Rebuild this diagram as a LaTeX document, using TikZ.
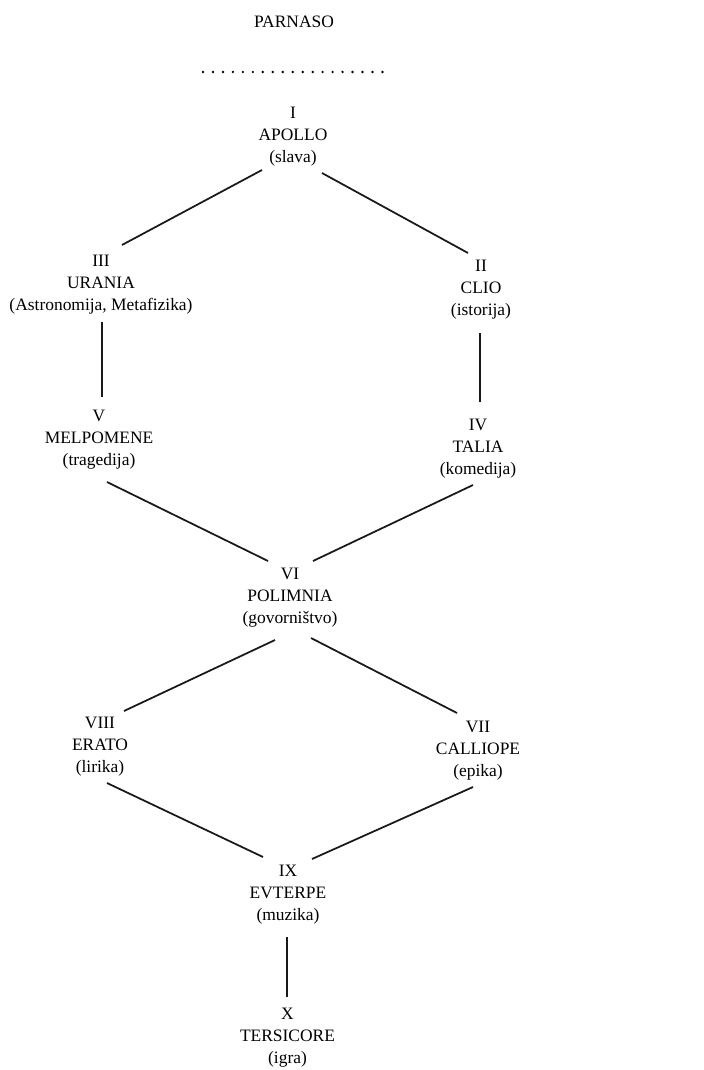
\documentclass[tikz,border=0pt]{standalone}
\usepackage{fontspec}
\setmainfont{Liberation Serif}
\usetikzlibrary{calc}

\begin{document}
\begin{tikzpicture}[x=0.025cm, y=-0.025cm,
        muse/.style={align=center, inner sep=1pt, font=\fontsize{12.4}{15.6}\selectfont},
        link/.style={line width=1.25pt, draw=black!90},
        dots/.style={line width=1.9pt, line cap=round, dash pattern=on 0pt off 7.09pt}]
      \useasboundingbox (0,0) rectangle (703,1070);
      \node[muse] (title) at (294,22) {PARNASO};
      \coordinate (dl) at (203,72);
      \coordinate (dr) at (384,72);
      \draw[dots] (dl) -- (dr);
      \foreach \x/\y/\name/\txt in {293/137/apollo/{I\\APOLLO\\(slava)},
          101/285/urania/{III\\URANIA\\(Astronomija, Metafizika)},
          481/290/clio/{II\\CLIO\\(istorija)},
          99/440/melpomene/{V\\MELPOMENE\\(tragedija)},
          478/449/talia/{IV\\TALIA\\(komedija)},
          290/598/polimnia/{VI\\POLIMNIA\\(govorništvo)},
          100/747/erato/{VIII\\ERATO\\(lirika)},
          478/751/calliope/{VII\\CALLIOPE\\(epika)},
          288/895/evterpe/{IX\\EVTERPE\\(muzika)},
          287.5/1038/tersicore/{X\\TERSICORE\\(igra)}}{
        \node[muse] (\name) at (\x,\y) {\txt};
      }
      \draw[link] ($(apollo)+(-31,33)$) -- ($(urania)+(21,-40)$);
      \draw[link] ($(apollo)+(29,36)$) -- ($(clio)+(-13,-37)$);
      \draw[link] ($(urania)+(1,37)$) -- ($(melpomene)+(3,-43)$);
      \draw[link] ($(clio)+(-1,43)$) -- ($(talia)+(2,-47)$);
      \draw[link] ($(melpomene)+(8,42)$) -- ($(polimnia)+(-22,-37)$);
      \draw[link] ($(talia)+(-5,36)$) -- ($(polimnia)+(23,-37)$);
      \draw[link] ($(polimnia)+(-15,42)$) -- ($(erato)+(24,-36)$);
      \draw[link] ($(polimnia)+(21,40)$) -- ($(calliope)+(-21,-38)$);
      \draw[link] ($(erato)+(7,36)$) -- ($(evterpe)+(-25,-38)$);
      \draw[link] ($(calliope)+(-5,36)$) -- ($(evterpe)+(24,-36)$);
      \draw[link] ($(evterpe)+(-1,42)$) -- ($(tersicore)+(-0.5,-41)$);
    \end{tikzpicture}
\end{document}
